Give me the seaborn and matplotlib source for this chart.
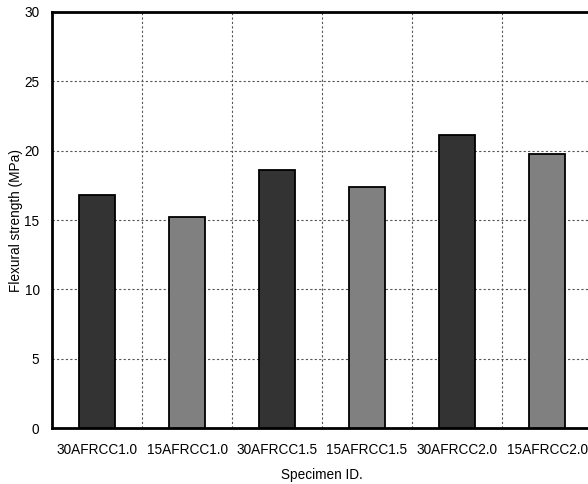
import matplotlib
matplotlib.use("Agg")
import matplotlib.pyplot as plt
import seaborn as sns
import pandas as pd
from matplotlib.ticker import MultipleLocator, FixedLocator

specimens = ["30AFRCC1.0", "15AFRCC1.0", "30AFRCC1.5", "15AFRCC1.5", "30AFRCC2.0", "15AFRCC2.0"]
strength = [16.8, 15.2, 18.6, 17.4, 21.1, 19.75]
bar_colors = ["#333333", "#808080", "#333333", "#808080", "#333333", "#808080"]

sns.set_theme(style="white")
plt.rcParams["font.family"] = ["Liberation Sans", "DejaVu Sans"]

df = pd.DataFrame({"Specimen": specimens, "Strength": strength})

fig = plt.figure(figsize=(5.88, 4.84), dpi=100)
ax = fig.add_axes([52 / 588, 56 / 484, 540 / 588, 416 / 484])

sns.barplot(data=df, x="Specimen", y="Strength", hue="Specimen", palette=bar_colors,
            legend=False, width=0.39, edgecolor="black", linewidth=1.3, ax=ax, zorder=3)

ax.set_xlim(-0.5, 5.5)
ax.set_ylim(0, 30)
ax.yaxis.set_major_locator(MultipleLocator(5))
ax.xaxis.set_minor_locator(FixedLocator([0.5, 1.5, 2.5, 3.5, 4.5]))

ax.grid(True, axis="y", which="major", linestyle=(0, (2, 2)), color="#555555", linewidth=0.8, zorder=0)
ax.grid(True, axis="x", which="minor", linestyle=(0, (2, 2)), color="#555555", linewidth=0.8, zorder=0)
ax.grid(False, axis="x", which="major")
ax.set_axisbelow(True)

for s in ["left", "top", "bottom", "right"]:
    ax.spines[s].set_color("black")
    ax.spines[s].set_linewidth(2)

ax.tick_params(axis="both", which="both", length=0, labelsize=9.8, colors="black")
ax.tick_params(axis="y", pad=9)
ax.tick_params(axis="x", pad=11)
ax.set_xlabel("Specimen ID.", fontsize=9.8, labelpad=8, color="black")
ax.set_ylabel("Flexural strength (MPa)", fontsize=9.8, labelpad=1, color="black")

fig.savefig("out.png", dpi=100)
